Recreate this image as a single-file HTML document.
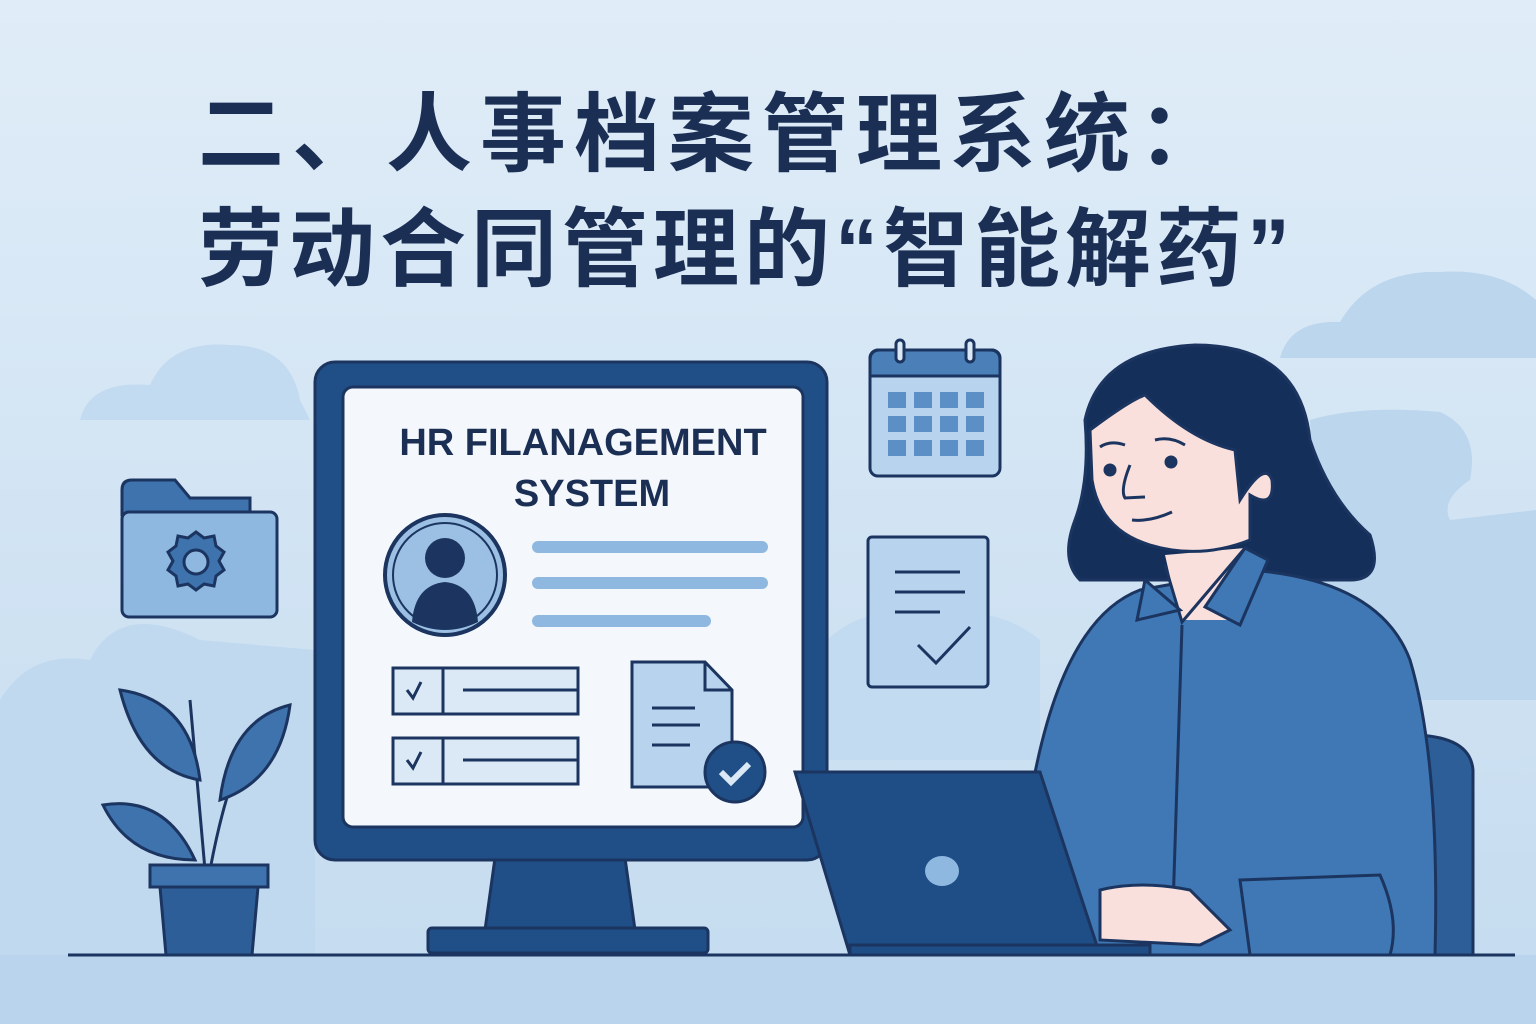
<!DOCTYPE html>
<html><head><meta charset="utf-8"><style>
html,body{margin:0;padding:0;width:1536px;height:1024px;overflow:hidden;background:#d6e7f5}
</style></head><body>
<svg width="1536" height="1024" viewBox="0 0 1536 1024" xmlns="http://www.w3.org/2000/svg">
<defs><linearGradient id="bg" x1="0" y1="0" x2="0" y2="1"><stop offset="0" stop-color="#e0edf8"/><stop offset="1" stop-color="#c4dbef"/></linearGradient></defs>
<rect width="1536" height="1024" fill="url(#bg)"/>
<!-- clouds -->
<path d="M1280 358 Q1290 320 1340 322 Q1370 270 1440 272 Q1500 268 1536 300 L1536 358 Z" fill="#bcd6ee"/>
<path d="M80 420 Q90 380 150 385 Q170 340 230 345 Q290 345 300 400 L310 420 Z" fill="#c3dbf0"/>
<path d="M1310 420 Q1360 405 1440 412 Q1480 430 1470 480 Q1440 500 1450 520 L1536 510 L1536 700 L1330 700 Z" fill="#bcd6ee"/>
<path d="M0 700 Q30 650 90 660 Q120 600 200 640 L315 650 L315 955 L0 955 Z" fill="#c0d9ef"/>
<path d="M827 640 Q870 600 930 620 Q990 600 1040 640 L1040 760 L827 760 Z" fill="#c3dbf0"/>
<rect x="0" y="955" width="1536" height="69" fill="#b9d4ec"/>
<line x1="68" y1="955" x2="1515" y2="955" stroke="#1b3560" stroke-width="3"/>
<!-- title -->
<g font-family="'Liberation Sans','Noto Sans CJK SC',sans-serif" font-weight="bold" fill="#1b2f55" font-size="86">
<text x="198" y="164" letter-spacing="8">二、人事档案管理系统：</text>
<text x="198" y="279" letter-spacing="5">劳动合同管理的“智能解药”</text>
</g>
<!-- folder -->
<g stroke="#1b3560" stroke-width="3">
<path d="M122 490 Q122 480 132 480 L175 480 L190 498 L250 498 L250 515 L122 515 Z" fill="#3f73ad"/>
<rect x="122" y="512" width="155" height="105" rx="7" fill="#8fb8e0"/>
<path d="M196 532 l8 6 10 -2 2 10 8 6 -5 9 5 9 -8 6 -2 10 -10 -2 -8 6 -8 -6 -10 2 -2 -10 -8 -6 5 -9 -5 -9 8 -6 2 -10 10 2 Z" fill="#3f73ad"/>
<circle cx="196" cy="562" r="12" fill="#8fb8e0"/>
</g>
<!-- plant -->
<g stroke="#1b3560" stroke-width="3">
<path d="M205 870 Q195 760 190 700" fill="none"/>
<path d="M210 870 Q225 790 245 750" fill="none"/>
<path d="M120 690 Q190 700 200 780 Q140 770 120 690 Z" fill="#3f73ad"/>
<path d="M290 705 Q230 720 220 800 Q280 780 290 705 Z" fill="#3f73ad"/>
<path d="M103 805 Q165 795 195 860 Q130 860 103 805 Z" fill="#3f73ad"/>
<rect x="150" y="865" width="118" height="22" fill="#3f73ad"/>
<path d="M160 887 L258 887 L252 955 L166 955 Z" fill="#2d5e98"/>
</g>
<!-- monitor -->
<g stroke="#1b3560" stroke-width="3">
<path d="M495 858 L625 858 L635 930 L485 930 Z" fill="#1f4f86"/>
<rect x="428" y="928" width="280" height="25" rx="4" fill="#1f4f86"/>
<rect x="315" y="362" width="512" height="498" rx="20" fill="#1f4f86"/>
<rect x="343" y="387" width="460" height="440" rx="10" fill="#f4f8fc"/>
</g>
<g font-family="'Liberation Sans',sans-serif" font-weight="bold" fill="#1b2f55" text-anchor="middle">
<text x="583" y="455" font-size="38">HR FILANAGEMENT</text>
<text x="592" y="506" font-size="38">SYSTEM</text>
</g>
<circle cx="445" cy="575" r="60" fill="#9cc0e3" stroke="#1b3560" stroke-width="4"/>
<circle cx="445" cy="575" r="52" fill="none" stroke="#1b3560" stroke-width="2"/>
<circle cx="445" cy="558" r="20" fill="#1b3560"/>
<path d="M412 622 Q415 585 445 582 Q475 585 478 622 Q445 638 412 622 Z" fill="#1b3560"/>
<g stroke="#8fb8e0" stroke-width="12" stroke-linecap="round">
<line x1="538" y1="547" x2="762" y2="547"/><line x1="538" y1="583" x2="762" y2="583"/><line x1="538" y1="621" x2="705" y2="621"/>
</g>
<g stroke="#1b3560" stroke-width="3" fill="#dbe8f5">
<rect x="393" y="668" width="185" height="46"/><line x1="443" y1="668" x2="443" y2="714"/>
<rect x="393" y="738" width="185" height="46"/><line x1="443" y1="738" x2="443" y2="784"/>
<line x1="463" y1="690" x2="578" y2="690"/><line x1="463" y1="760" x2="578" y2="760"/>
<path d="M407 690 l6 8 8 -16" fill="none"/><path d="M407 760 l6 8 8 -16" fill="none"/>
<path d="M632 662 L705 662 L732 690 L732 787 L632 787 Z" fill="#b8d3ee"/>
<path d="M705 662 L705 690 L732 690" fill="none"/>
<line x1="652" y1="708" x2="695" y2="708"/><line x1="652" y1="725" x2="700" y2="725"/><line x1="652" y1="745" x2="690" y2="745"/>
<circle cx="735" cy="772" r="30" fill="#1f4f86"/>
<path d="M721 772 l10 10 18 -18" fill="none" stroke="#dbe8f5" stroke-width="6"/>
</g>
<!-- calendar -->
<g stroke="#1b3560" stroke-width="3">
<rect x="870" y="350" width="130" height="126" rx="8" fill="#b8d3ee"/>
<path d="M870 376 L870 360 Q870 350 880 350 L990 350 Q1000 350 1000 360 L1000 376 Z" fill="#4a7fb8"/>
<rect x="896" y="340" width="8" height="22" rx="4" fill="#dbe8f5"/><rect x="966" y="340" width="8" height="22" rx="4" fill="#dbe8f5"/>
</g>
<g fill="#5b8fc6">
<rect x="888" y="392" width="18" height="16"/><rect x="914" y="392" width="18" height="16"/><rect x="940" y="392" width="18" height="16"/><rect x="966" y="392" width="18" height="16"/>
<rect x="888" y="416" width="18" height="16"/><rect x="914" y="416" width="18" height="16"/><rect x="940" y="416" width="18" height="16"/><rect x="966" y="416" width="18" height="16"/>
<rect x="888" y="440" width="18" height="16"/><rect x="914" y="440" width="18" height="16"/><rect x="940" y="440" width="18" height="16"/><rect x="966" y="440" width="18" height="16"/>
</g>
<!-- doc check -->
<g stroke="#1b3560" stroke-width="3" fill="none">
<rect x="868" y="537" width="120" height="150" rx="4" fill="#b8d3ee"/>
<line x1="895" y1="572" x2="960" y2="572"/><line x1="895" y1="592" x2="965" y2="592"/><line x1="895" y1="612" x2="940" y2="612"/>
<path d="M918 645 l18 18 34 -36"/>
</g>
<!-- chair -->
<path d="M1410 735 Q1470 735 1473 770 L1473 955 L1410 955 Z" fill="#2d5e98" stroke="#1b3560" stroke-width="3"/>
<!-- woman -->
<g stroke="#1b3560" stroke-width="3">
<path d="M1085 420 Q1100 350 1195 345 Q1300 345 1310 440 Q1330 500 1370 535 Q1385 580 1350 580 L1080 580 Q1060 560 1075 520 Q1090 480 1085 420 Z" fill="#14305a"/>
<path d="M1030 800 Q1060 620 1140 590 L1250 570 Q1380 580 1410 660 Q1440 760 1435 955 L1060 955 Z" fill="#3f78b4"/>
<path d="M1165 555 L1245 548 L1240 620 L1180 620 Z" fill="#f9e0dc" stroke="none"/>
<path d="M1090 430 Q1130 400 1145 395 Q1190 440 1235 450 L1240 500 Q1265 460 1272 480 Q1275 510 1250 495 L1250 540 Q1200 560 1150 545 Q1100 530 1092 480 Z" fill="#f9e0dc"/>
<path d="M1165 565 L1182 622 L1245 548" fill="none"/>
<path d="M1145 580 L1137 620 L1180 610 Z" fill="#3f78b4"/>
<path d="M1245 548 L1268 560 L1240 625 L1205 607 Z" fill="#3f78b4"/>
<line x1="1182" y1="625" x2="1172" y2="940" stroke-width="3"/>
<circle cx="1110" cy="470" r="5" fill="#1b3560"/><circle cx="1171" cy="462" r="5" fill="#1b3560"/>
<path d="M1100 447 Q1110 440 1125 445 M1155 440 Q1170 436 1185 445 M1130 465 Q1120 490 1125 498 L1145 497 M1132 520 Q1150 522 1172 512" fill="none"/>
<path d="M1100 890 Q1140 880 1190 890 L1230 930 L1200 945 L1100 940 Z" fill="#f9e0dc"/>
<path d="M1240 880 L1380 875 Q1400 920 1390 955 L1250 955 Z" fill="#3f78b4"/>
</g>
<!-- laptop -->
<g stroke="#1b3560" stroke-width="3">
<path d="M795 772 L1040 772 L1100 955 L850 955 Z" fill="#1f4d85"/>
<rect x="850" y="945" width="300" height="10" fill="#1f4d85"/>
<ellipse cx="942" cy="871" rx="17" ry="15" fill="#8fb8e0" stroke="none"/>
</g>
</svg>
</body></html>
